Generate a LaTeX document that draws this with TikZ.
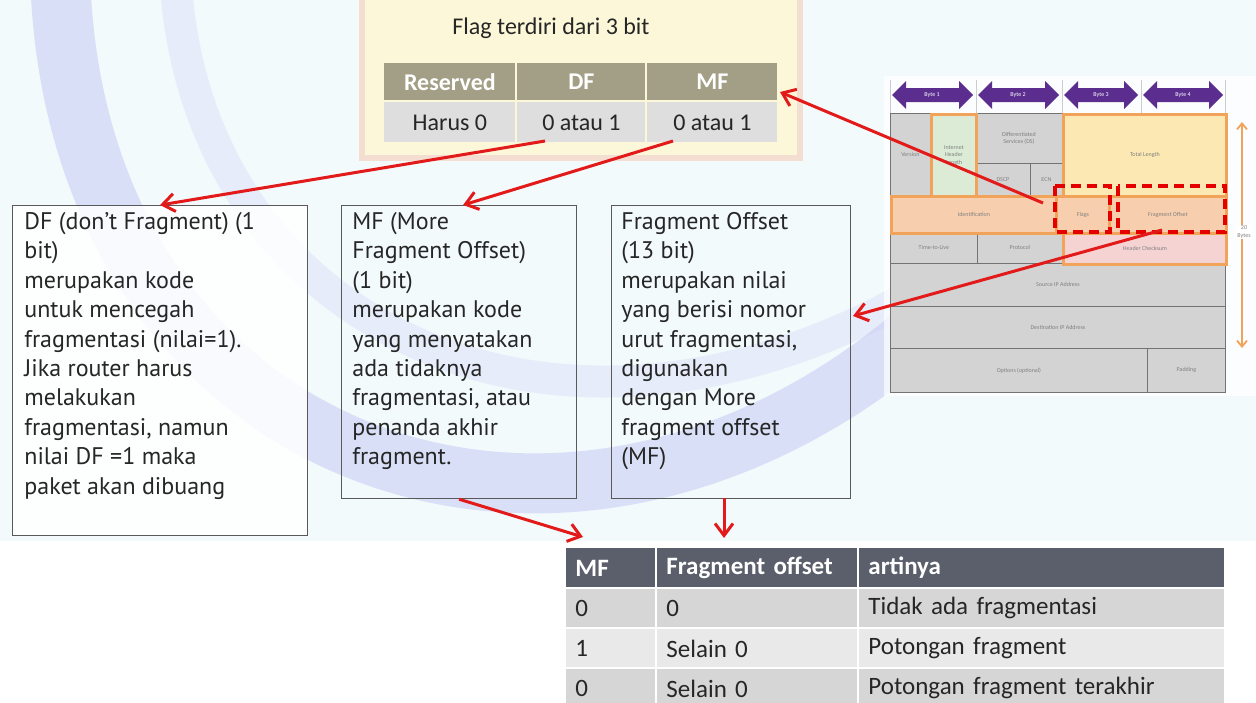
\documentclass[tikz,border=0pt]{standalone}
\usepackage{fontspec}
\setmainfont{Carlito}
\newfontfamily\boxfont{PT Sans}
\usetikzlibrary{arrows.meta,calc}
\definecolor{redarr}{HTML}{E21A1A}
\definecolor{olivehd}{HTML}{A39E86}
\definecolor{celllt}{HTML}{DEDEDE}
\definecolor{slatehd}{HTML}{5B5F6B}
\definecolor{rowdk}{HTML}{D6D6D6}
\definecolor{rowlt}{HTML}{E9E9E9}
\definecolor{ipgrey}{HTML}{D3D3D3}
\definecolor{iporange}{HTML}{F2A35A}
\definecolor{ipgreen}{HTML}{DCEBD6}
\definecolor{ipyellow}{HTML}{FCE8B2}
\definecolor{ippeach}{HTML}{F8CFAE}
\definecolor{ippink}{HTML}{F6D3D3}
\definecolor{purplearr}{HTML}{5A2D8E}
\definecolor{bandblue}{HTML}{C9CEF3}
\definecolor{bgcyan}{HTML}{F3FAFC}
\definecolor{wmyellow}{HTML}{FCF7D8}
\definecolor{wmframe}{HTML}{F4DED2}
\begin{document}
\begin{tikzpicture}[x=0.5pt,y=-0.5pt,
  redline/.style={draw=redarr,line width=1.5pt,-{Straight Barb[length=6pt,width=9pt]}},
  frame/.style={draw=black!65,line width=0.6pt,anchor=north west,inner sep=0pt},
  boxtext/.style={anchor=north west,inner sep=0pt,align=left,text=black!85,
    font=\boxfont\fontsize{12}{14.7}\selectfont},
  thcell/.style={fill=olivehd,text=white,anchor=north west,inner sep=0pt,
    font=\bfseries\fontsize{12}{14}\selectfont},
  tdcell/.style={fill=celllt,text=black!85,anchor=north west,inner sep=0pt,
    font=\fontsize{12}{14}\selectfont},
  bhcell/.style={fill=slatehd,text=white,anchor=north west,inner xsep=4.5pt,inner ysep=0pt,
    align=left,font=\bfseries\fontsize{12.5}{14}\selectfont},
  bdcell/.style={text=black!85,anchor=north west,inner xsep=4.5pt,inner ysep=0pt,
    align=left,font=\fontsize{12.5}{14}\selectfont},
  ipcell/.style={draw=black!55,line width=0.4pt,fill=ipgrey,anchor=north west,inner sep=0pt,
    align=center,text=black!50,font=\fontsize{3}{3.6}\selectfont},
  iphot/.style={ipcell,draw=iporange,line width=1.4pt},
  reddash/.style={draw=red!90!black,line width=1.6pt,dash pattern=on 5pt off 3pt},
  bytearrow/.style={fill=purplearr,draw=none},
  bytelbl/.style={text=white,font=\fontsize{3}{3.6}\selectfont,inner sep=0pt}
]
\useasboundingbox (0,0) rectangle (1256,702);
\fill[white] (0,0) rectangle (1256,702);
% watermark background
\fill[bgcyan] (0,0) rectangle (1256,541);
\begin{scope}
\clip (0,0) rectangle (1256,541);
\draw[bandblue,opacity=0.6,line width=30pt] (60,-30) .. controls (70,460) and (560,640) .. (920,330);
\draw[bandblue,opacity=0.3,line width=16pt] (175,-30) .. controls (190,330) and (560,500) .. (920,290);
\end{scope}
\fill[wmyellow] (362,-5) rectangle (800,158);
\draw[wmframe,line width=3pt] (362,-5) rectangle (800,158);

% title and top table
\node[font=\fontsize{12}{14}\selectfont,text=black!85,inner sep=0pt] (title) at (551,28) {Flag terdiri dari 3 bit};
\node[thcell,minimum width=65.5pt,minimum height=18.5pt] (th1) at (384,63) {Reserved};
\node[thcell,minimum width=64pt,minimum height=18.5pt] (th2) at (517,63) {DF};
\node[thcell,minimum width=65pt,minimum height=18.5pt] (th3) at (647,63) {MF};
\node[tdcell,minimum width=65.5pt,minimum height=20pt] (td1) at (384,102) {Harus 0};
\node[tdcell,minimum width=64pt,minimum height=20pt] (td2) at (517,102) {0 atau 1};
\node[tdcell,minimum width=65pt,minimum height=20pt] (td3) at (647,102) {0 atau 1};

% text boxes
\node[frame,fill=white,fill opacity=0.85,minimum width=147.5pt,minimum height=165pt] (df) at (12,205) {};
\node[boxtext] (dftext) at (24,212) {DF (don’t Fragment) (1\\bit)\\merupakan kode\\untuk mencegah\\fragmentasi (nilai=1).\\Jika router harus\\melakukan\\fragmentasi, namun\\nilai DF =1 maka\\paket akan dibuang};
\node[frame,minimum width=117.5pt,minimum height=146.5pt] (mf) at (341,205) {};
\node[boxtext] (mftext) at (352,212) {MF (More\\Fragment Offset)\\(1 bit)\\merupakan kode\\yang menyatakan\\ada tidaknya\\fragmentasi, atau\\penanda akhir\\fragment.};
\node[frame,minimum width=119.5pt,minimum height=146.5pt] (fo) at (611,205) {};
\node[boxtext] (fotext) at (621,212) {Fragment Offset\\(13 bit)\\merupakan nilai\\yang berisi nomor\\urut fragmentasi,\\digunakan\\dengan More\\fragment offset\\(MF)};

% bottom table
\node[bhcell,minimum width=44.5pt,minimum height=19.5pt,text width=35.5pt] (bh1) at (566,548) {MF};
\node[bhcell,minimum width=100pt,minimum height=19.5pt,text width=91pt] (bh2) at (657,548) {Fragment offset};
\node[bhcell,minimum width=182.5pt,minimum height=19.5pt,text width=173.5pt] (bh3) at (859,548) {artinya};
\node[bdcell,fill=rowdk,minimum width=44.5pt,minimum height=19pt,text width=35.5pt] (r1a) at (566,589) {0};
\node[bdcell,fill=rowdk,minimum width=100pt,minimum height=19pt,text width=91pt] (r1b) at (657,589) {0};
\node[bdcell,fill=rowdk,minimum width=182.5pt,minimum height=19pt,text width=173.5pt] (r1c) at (859,589) {Tidak ada fragmentasi};
\node[bdcell,fill=rowlt,minimum width=44.5pt,minimum height=19pt,text width=35.5pt] (r2a) at (566,629) {1};
\node[bdcell,fill=rowlt,minimum width=100pt,minimum height=19pt,text width=91pt] (r2b) at (657,629) {Selain 0};
\node[bdcell,fill=rowlt,minimum width=182.5pt,minimum height=19pt,text width=173.5pt] (r2c) at (859,629) {Potongan fragment};
\node[bdcell,fill=rowdk,minimum width=44.5pt,minimum height=19pt,text width=35.5pt] (r3a) at (566,669) {0};
\node[bdcell,fill=rowdk,minimum width=100pt,minimum height=19pt,text width=91pt] (r3b) at (657,669) {Selain 0};
\node[bdcell,fill=rowdk,minimum width=182.5pt,minimum height=19pt,text width=173.5pt] (r3c) at (859,669) {Potongan fragment terakhir};

% IP header diagram
\fill[white,opacity=0.7] (884,76) rectangle (1256,396);
\foreach \xx in {890,976,1062,1141,1225} \draw[black!20,line width=0.4pt] (\xx,80) -- (\xx,113);
\fill[bytearrow] (892,95) -- (906,81) -- (906,88) -- (959,88) -- (959,81) -- (973,95) -- (959,109) -- (959,102) -- (906,102) -- (906,109) -- cycle;
\fill[bytearrow] (978,95) -- (992,81) -- (992,88) -- (1045,88) -- (1045,81) -- (1059,95) -- (1045,109) -- (1045,102) -- (992,102) -- (992,109) -- cycle;
\fill[bytearrow] (1064,95) -- (1078,81) -- (1078,88) -- (1124,88) -- (1124,81) -- (1138,95) -- (1124,109) -- (1124,102) -- (1078,102) -- (1078,109) -- cycle;
\fill[bytearrow] (1143,95) -- (1157,81) -- (1157,88) -- (1209,88) -- (1209,81) -- (1223,95) -- (1209,109) -- (1209,102) -- (1157,102) -- (1157,109) -- cycle;
\node[bytelbl] (b1) at (932,95) {Byte 1};
\node[bytelbl] (b2) at (1018,95) {Byte 2};
\node[bytelbl] (b3) at (1101,95) {Byte 3};
\node[bytelbl] (b4) at (1183,95) {Byte 4};

\node[ipcell,minimum width=20pt,minimum height=41pt] (ver) at (890,113) {Version};
\node[ipcell,minimum width=43.5pt,minimum height=25pt] (ds) at (975,113) {Differentiated\\Services (DS)};
\node[ipcell,minimum width=27.5pt,minimum height=16pt] (dscp) at (975,163) {DSCP};
\node[ipcell,minimum width=16pt,minimum height=16pt] (ecn) at (1030,163) {ECN};
\node[ipcell,minimum width=43.5pt,minimum height=15.5pt] (ttl) at (890,232) {Time-to-Live};
\node[ipcell,minimum width=42.5pt,minimum height=15.5pt] (proto) at (977,232) {Protocol};
\node[ipcell,minimum width=167.5pt,minimum height=21.5pt] (src) at (890,263) {Source IP Address};
\node[ipcell,minimum width=167.5pt,minimum height=21pt] (dst) at (890,306) {Destination IP Address};
\node[ipcell,minimum width=128.5pt,minimum height=22pt] (opt) at (890,348) {Options (optional)};
\node[ipcell,minimum width=39pt,minimum height=22pt] (pad) at (1147,348) {Padding};
\node[iphot,fill=ipgreen,minimum width=22.5pt,minimum height=41pt] (ihl) at (930,113) {Internet\\Header\\Length};
\node[iphot,fill=ipyellow,minimum width=81.5pt,minimum height=41pt] (tlen) at (1062,113) {Total Length};
\node[iphot,fill=ippeach,minimum width=82.5pt,minimum height=18.5pt] (ident) at (890,195) {Identification};
\node[iphot,fill=ippeach,minimum width=26.5pt,minimum height=18.5pt] (flags) at (1055,195) {Flags};
\node[iphot,fill=ippeach,minimum width=58.5pt,minimum height=18.5pt] (fragoff) at (1108,195) {Fragment Offset};
\node[iphot,fill=ippink,minimum width=81.5pt,minimum height=15.5pt] (hcs) at (1062,232) {Header Checksum};
\draw[reddash] (1055,186) rectangle (1110,232);
\draw[reddash] (1118,186) rectangle (1225,232);
\coordinate (bytestop) at (1242,122);
\coordinate (bytesbot) at (1242,348);
\draw[iporange,line width=0.9pt,{Straight Barb[length=3pt,width=5pt]}-{Straight Barb[length=3pt,width=5pt]}] (bytestop) -- (bytesbot);
\node[fill=white,inner sep=0.5pt,align=center,text=black!50,font=\fontsize{3}{3.6}\selectfont] (twenty) at (1244,232) {20\\Bytes};

% red connectors
\coordinate (dfsrc) at (545,141);
\coordinate (mfsrc) at (673,141);
\coordinate (flagsrc) at (1043,203);
\coordinate (flagdst) at (780,92);
\coordinate (fosrc) at (1162,230);
\coordinate (fodst) at (853,316);
\coordinate (mfdst) at (583,537);
\coordinate (fobot) at (724,498);
\coordinate (fodown) at (724,538);
\draw[redline] (dfsrc) -- (df.north);
\draw[redline] (mfsrc) -- ($(mf.north)+(4,0)$);
\draw[redline] (flagsrc) -- (flagdst);
\draw[redline] (fosrc) -- (fodst);
\draw[redline] (mf.south) -- (mfdst);
\draw[redline] (fobot) -- (fodown);
\end{tikzpicture}
\end{document}
